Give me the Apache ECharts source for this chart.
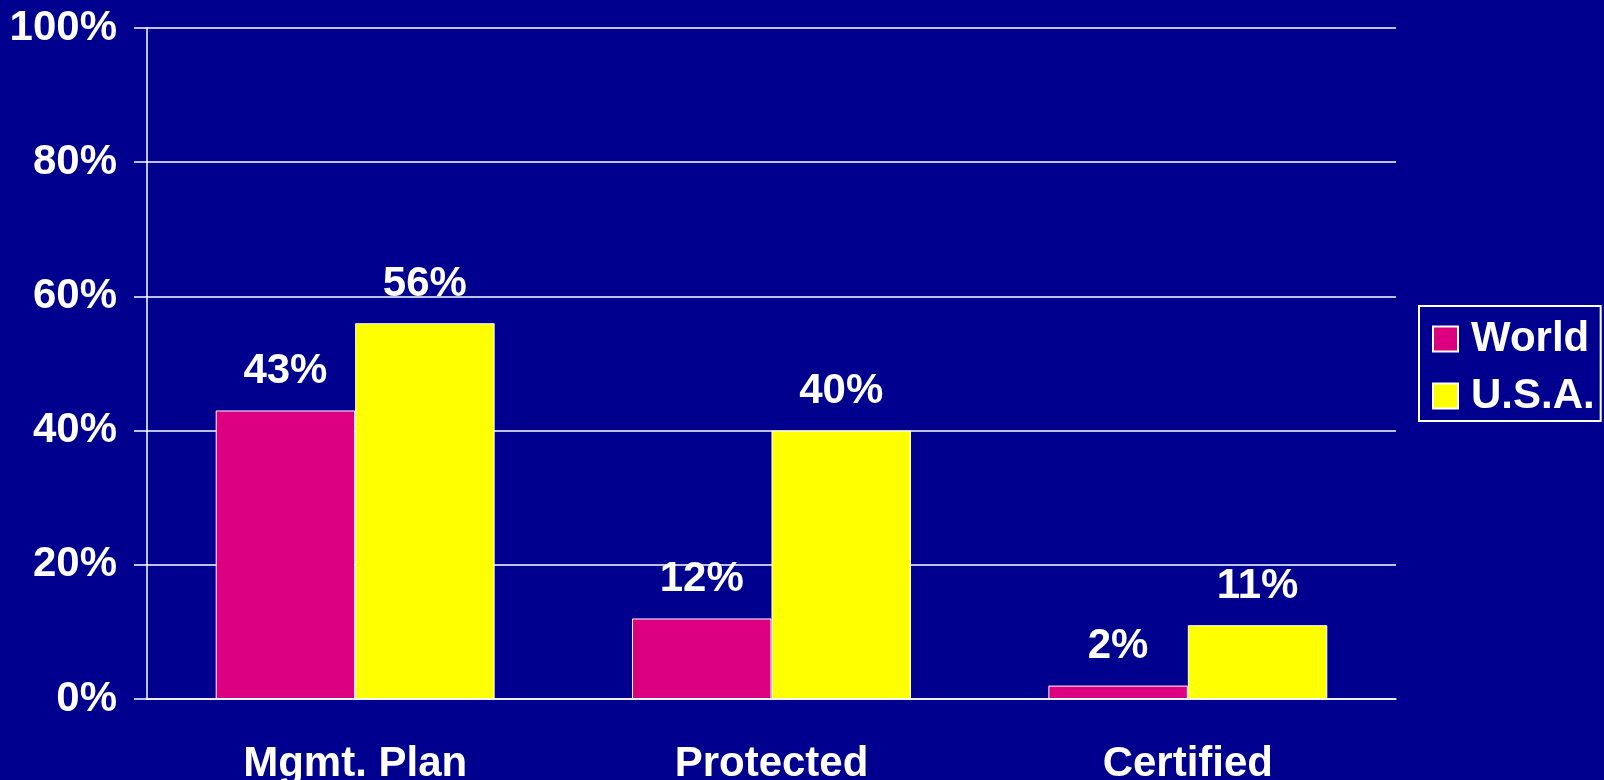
<!DOCTYPE html>
<html>
<head>
<meta charset="utf-8">
<script src="https://cdn.jsdelivr.net/npm/echarts@6/dist/echarts.min.js"></script>
<style>
  html, body { margin: 0; padding: 0; background: #00008F; }
  #chart { width: 1604px; height: 780px; }
</style>
</head>
<body>
<div id="chart"></div>
<script>
const categories = ['Mgmt. Plan', 'Protected', 'Certified'];
const worldValues = [43, 12, 2];
const usaValues = [56, 40, 11];
const yTicks = [0, 20, 40, 60, 80, 100];

const FONT = '"Liberation Sans", Arial, Helvetica, sans-serif';
const WHITE = '#FFFFFF';

const chart = echarts.init(document.getElementById('chart'));

const barLabel = {
  show: true,
  position: 'top',
  distance: 18,
  color: WHITE,
  fontFamily: FONT,
  fontWeight: 'bold',
  fontSize: 42,
  lineHeight: 42,
  formatter: p => p.value + '%'
};

chart.setOption({
  backgroundColor: '#00008F',
  animation: false,
  grid: { left: 147, right: 208, top: 28, bottom: 81, containLabel: false, outerBoundsMode: 'none' },
  legend: {
    orient: 'vertical',
    left: 1419,
    top: 306,
    padding: [12, 6, 4, 13],
    borderColor: WHITE,
    borderWidth: 2,
    itemWidth: 25,
    itemHeight: 25,
    itemGap: 15,
    icon: 'rect',
    textStyle: {
      color: WHITE,
      fontFamily: FONT,
      fontWeight: 'bold',
      fontSize: 42,
      padding: [0, 0, 0, 8]
    },
    data: ['World', 'U.S.A.']
  },
  xAxis: {
    type: 'category',
    data: categories,
    axisLine: { lineStyle: { color: WHITE, width: 1.5 } },
    axisTick: { show: false },
    axisLabel: {
      color: WHITE,
      fontFamily: FONT,
      fontWeight: 'bold',
      fontSize: 42,
      lineHeight: 42,
      margin: 44
    }
  },
  yAxis: {
    type: 'value',
    min: 0,
    max: 100,
    interval: 20,
    axisLine: { show: true, lineStyle: { color: WHITE, width: 1.5 } },
    axisTick: { show: true, length: 13, lineStyle: { color: WHITE, width: 1.5 } },
    splitLine: { show: true, lineStyle: { color: WHITE, width: 1.5 } },
    axisLabel: {
      color: WHITE,
      fontFamily: FONT,
      fontWeight: 'bold',
      fontSize: 42,
      margin: 30,
      padding: [6, 0, 0, 0],
      formatter: v => (yTicks.includes(v) ? v + '%' : '')
    }
  },
  series: [
    {
      name: 'World',
      type: 'bar',
      data: worldValues,
      barGap: '0%',
      barCategoryGap: '33%',
      itemStyle: { color: '#DC0080', borderColor: WHITE, borderWidth: 1 },
      label: barLabel
    },
    {
      name: 'U.S.A.',
      type: 'bar',
      data: usaValues,
      barGap: '0%',
      barCategoryGap: '33%',
      itemStyle: { color: '#FFFF00', borderColor: WHITE, borderWidth: 1 },
      label: barLabel
    }
  ]
});
</script>
</body>
</html>
